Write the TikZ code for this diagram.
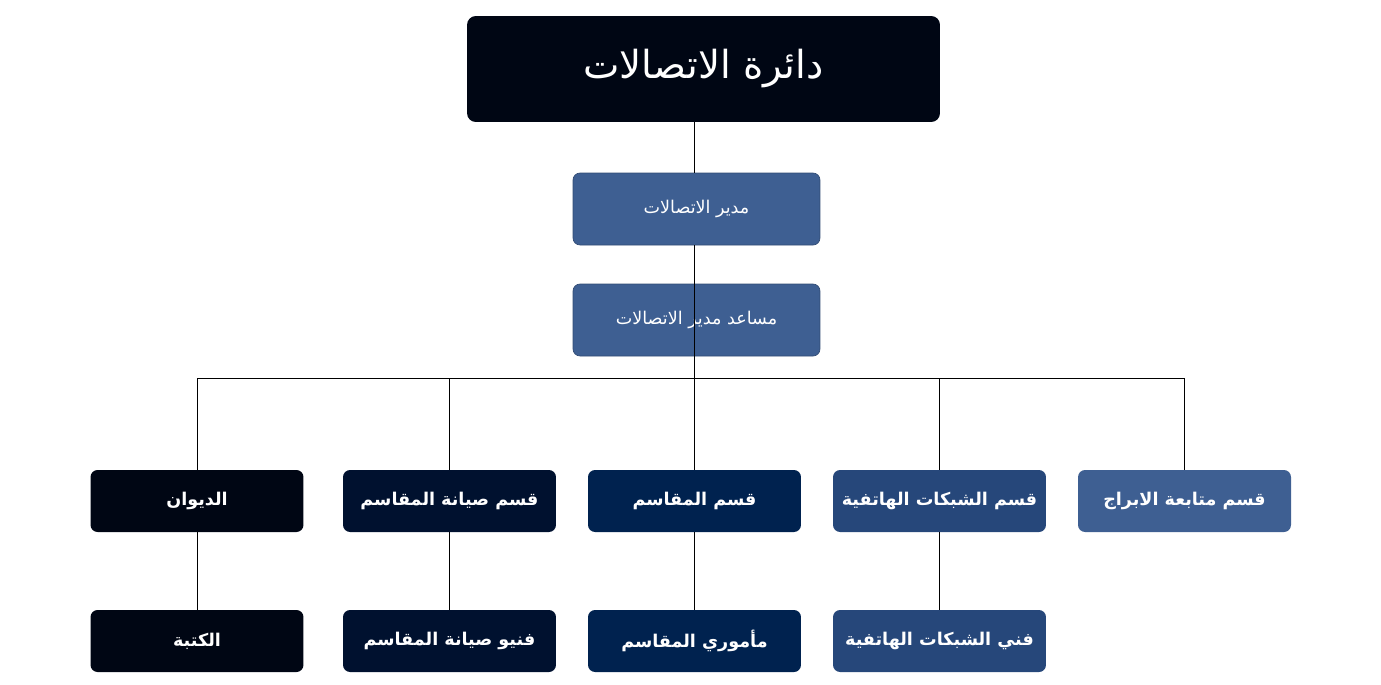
\documentclass[tikz,border=0pt]{standalone}
\usepackage{fontspec}
\newfontfamily\arabicfont[Script=Arabic]{DejaVu Sans}
\TeXXeTstate=1
\usetikzlibrary{positioning}
\definecolor{cBlack}{HTML}{000614}
\definecolor{cNavy}{HTML}{00112F}
\definecolor{cDeep}{HTML}{00224F}
\definecolor{cMid}{HTML}{26477A}
\definecolor{cLight}{HTML}{3E5F92}
\newcommand{\ar}[1]{\arabicfont\beginR #1\endR}

\begin{document}
\begin{tikzpicture}[
        x=0.02cm, y=-0.02cm,
        unit/.style={rounded corners=4pt, text=white, minimum width=4.26cm, minimum height=1.24cm, inner sep=0pt, font=\fontsize{10}{12}\selectfont\bfseries},
        head/.style={unit, minimum width=4.94cm, minimum height=1.44cm, draw=cLight!80!black},
        link/.style={draw=black, line width=0.5pt},
    ]
    \useasboundingbox (0,0) rectangle (1381,684);

        % Top and management
        \node[rounded corners=5pt, fill=cBlack, text=white, minimum width=9.46cm, minimum height=2.12cm, font=\fontsize{22}{26}\selectfont] (dept) at (703.5,69) {\ar{دائرة الاتصالات}};
        \node[head, fill=cLight, font=\fontsize{10}{12}\selectfont] (mgr) at (696.5,209) {\ar{مدير الاتصالات}};
        \node[head, fill=cLight, font=\fontsize{10}{12}\selectfont] (asst) at (696.5,320) {\ar{مساعد مدير الاتصالات}};

        % Sections
        \node[unit, fill=cBlack] (S-1) at (197,501) {\ar{الديوان}};
        \node[unit, fill=cNavy] (S-2) at (449.5,501) {\ar{قسم صيانة المقاسم}};
        \node[unit, fill=cDeep] (S-3) at (694.5,501) {\ar{قسم المقاسم}};
        \node[unit, fill=cMid] (S-4) at (939.5,501) {\ar{قسم الشبكات الهاتفية}};
        \node[unit, fill=cLight] (S-5) at (1184.5,501) {\ar{قسم متابعة الابراج}};

        % Staff
        \node[unit, fill=cBlack] (T-1) at (197,641) {\ar{الكتبة}};
        \node[unit, fill=cNavy] (T-2) at (449.5,641) {\ar{فنيو صيانة المقاسم}};
        \node[unit, fill=cDeep] (T-3) at (694.5,641) {\ar{مأموري المقاسم}};
        \node[unit, fill=cMid] (T-4) at (939.5,641) {\ar{فني الشبكات الهاتفية}};

        % Connectors
        \coordinate (bus) at (694,378);
        \draw[link] (dept.south -| bus) -- (mgr.north -| bus);
        \draw[link] (mgr.south -| bus) -- (asst.south -| bus) ;
        \draw[link] (asst.south -| bus) -- (bus);
        \foreach \i in {1,...,5}
            \draw[link] (bus) -| (S-\i.north);
        \foreach \i in {1,...,4}
            \draw[link] (S-\i) -- (T-\i);
    \end{tikzpicture}
\end{document}
